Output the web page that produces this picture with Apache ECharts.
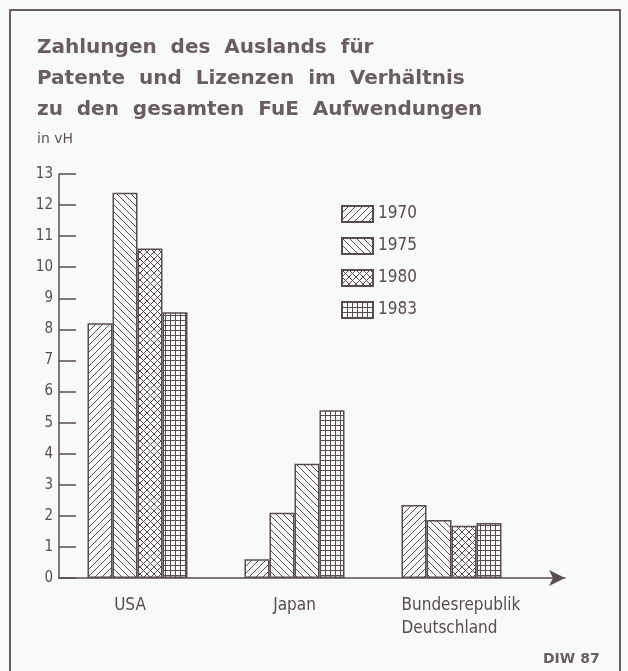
<!DOCTYPE html>
<html>
<head>
<meta charset="utf-8">
<script src="https://cdn.jsdelivr.net/npm/echarts@6/dist/echarts.min.js"></script>
<style>
  html, body { margin: 0; padding: 0; background: #f8fafa; }
  #chart { width: 628px; height: 671px; }
</style>
</head>
<body>
<div id="chart"></div>
<script>
// ---- data ----
var categories = ['USA', 'Japan', 'Bundesrepublik\nDeutschland'];
var years = ['1970', '1975', '1980', '1983'];
var v1970 = [8.2, 0.6, 2.35];
var v1975 = [12.4, 2.1, 1.87];
var v1980 = [10.6, 3.68, 1.68];
var v1983 = [8.55, 5.4, 1.77];
var yTicks = [0, 13, 1]; // min, max, interval

var INK = '#5a4b4d';
var BG = '#f8fafa';

function makePattern(kind) {
  var s = kind === 'grid' ? 5 : 7;
  var c = document.createElement('canvas');
  c.width = s; c.height = s;
  var g = c.getContext('2d');
  g.fillStyle = BG; g.fillRect(0, 0, s, s);
  g.strokeStyle = INK; g.lineWidth = 1;
  g.beginPath();
  if (kind === 'slash' || kind === 'cross') {
    g.moveTo(-1, s + 1); g.lineTo(s + 1, -1);
    g.moveTo(-2, 2); g.lineTo(2, -2);
    g.moveTo(s - 2, s + 2); g.lineTo(s + 2, s - 2);
  }
  if (kind === 'back' || kind === 'cross') {
    g.moveTo(-1, -1); g.lineTo(s + 1, s + 1);
    g.moveTo(s - 2, -2); g.lineTo(s + 2, 2);
    g.moveTo(-2, s - 2); g.lineTo(2, s + 2);
  }
  if (kind === 'grid') {
    g.moveTo(0.5, 0); g.lineTo(0.5, s);
    g.moveTo(0, 0.5); g.lineTo(s, 0.5);
  }
  g.stroke();
  return { image: c, repeat: 'repeat' };
}

var patterns = {
  '1970': makePattern('slash'),
  '1975': makePattern('back'),
  '1980': makePattern('cross'),
  '1983': makePattern('grid')
};

var valuesByYear = { '1970': v1970, '1975': v1975, '1980': v1980, '1983': v1983 };

var series = years.map(function (y) {
  var data = valuesByYear[y].map(function (v, i) {
    var item = { value: v };
    // in the original, Japan 1980 is drawn with the 1975 hatching
    if (y === '1980' && i === 1) item.itemStyle = { color: patterns['1975'] };
    return item;
  });
  return {
    name: y,
    type: 'bar',
    xAxisIndex: 0, yAxisIndex: 0,
    barWidth: 25,
    barGap: '0%',
    data: data,
    itemStyle: { color: patterns[y], borderColor: INK, borderWidth: 1.5 },
    emphasis: { disabled: true },
    animation: false
  };
});

var narrow = "'DejaVu Sans Condensed', 'Liberation Sans Narrow', sans-serif";

var chart = echarts.init(document.getElementById('chart'), null, { renderer: 'canvas' });
chart.setOption({
  backgroundColor: BG,
  animation: false,
  title: [
    {
      text: 'Zahlungen  des  Auslands  für\nPatente  und  Lizenzen  im  Verhältnis\nzu  den  gesamten  FuE  Aufwendungen',
      left: 32, top: 27,
      textStyle: { fontFamily: 'DejaVu Sans', fontSize: 20, fontWeight: 'bold', color: '#6b5d5f', lineHeight: 31 }
    },
    {
      text: 'in vH',
      left: 32, top: 127,
      textStyle: { fontFamily: 'DejaVu Sans', fontSize: 14, fontWeight: 'normal', color: '#5f5153' }
    },
    {
      text: 'DIW 87',
      left: 538, top: 647,
      textStyle: { fontFamily: 'DejaVu Sans', fontSize: 14, fontWeight: 'bold', color: '#6b5d5f' }
    }
  ],
  legend: {
    orient: 'vertical',
    left: 336, top: 200,
    itemWidth: 31, itemHeight: 16, itemGap: 14,
    icon: 'rect',
    data: years,
    textStyle: { fontFamily: narrow, fontSize: 17, lineHeight: 16, color: INK },
    selectedMode: false
  },
  grid: [
    { left: 59, width: 471, top: 174, bottom: 93 },
    { left: 59, right: 63, top: 174, bottom: 93 }
  ],
  xAxis: [
    {
      type: 'category', gridIndex: 0, data: categories,
      axisLine: { show: false },
      axisTick: { show: false },
      axisLabel: {
        interval: 0,
        margin: 16,
        color: INK,
        fontFamily: narrow,
        fontSize: 17,
        lineHeight: 23,
        formatter: function (v) {
          if (v.indexOf('\n') >= 0) {
            return v.split('\n').map(function (p) { return '{d|' + p + '}'; }).join('\n');
          }
          if (v === 'USA') return '{u|' + v + '}';
          return v;
        },
        rich: {
          d: { align: 'left', width: 100, fontFamily: narrow, fontSize: 17, color: INK, lineHeight: 23 },
          u: { padding: [0, 15, 0, 0], fontFamily: narrow, fontSize: 17, color: INK, lineHeight: 23 }
        }
      }
    },
    {
      type: 'value', gridIndex: 1, min: 0, max: 1,
      axisLine: { show: true, lineStyle: { color: INK, width: 1.5 }, symbol: ['none', 'arrow'], symbolSize: [12, 16] },
      axisTick: { show: false }, axisLabel: { show: false }, splitLine: { show: false }
    }
  ],
  yAxis: [
    {
      type: 'value', gridIndex: 0,
      min: yTicks[0], max: yTicks[1], interval: yTicks[2],
      axisLine: { show: true, lineStyle: { color: INK, width: 1.5 } },
      axisTick: { show: true, inside: true, length: 17, lineStyle: { color: INK, width: 1.5 } },
      axisLabel: { margin: 6, color: INK, fontFamily: narrow, fontSize: 15 },
      splitLine: { show: false }
    },
    {
      type: 'value', gridIndex: 1, show: false, min: 0, max: 1
    }
  ],
  graphic: [
    {
      type: 'polyline',
      shape: { points: [[10, 671], [10, 10], [620, 10], [620, 671]] },
      style: { stroke: '#6b5d5f', lineWidth: 2, fill: null },
      silent: true
    }
  ],
  series: series
});
</script>
</body>
</html>
